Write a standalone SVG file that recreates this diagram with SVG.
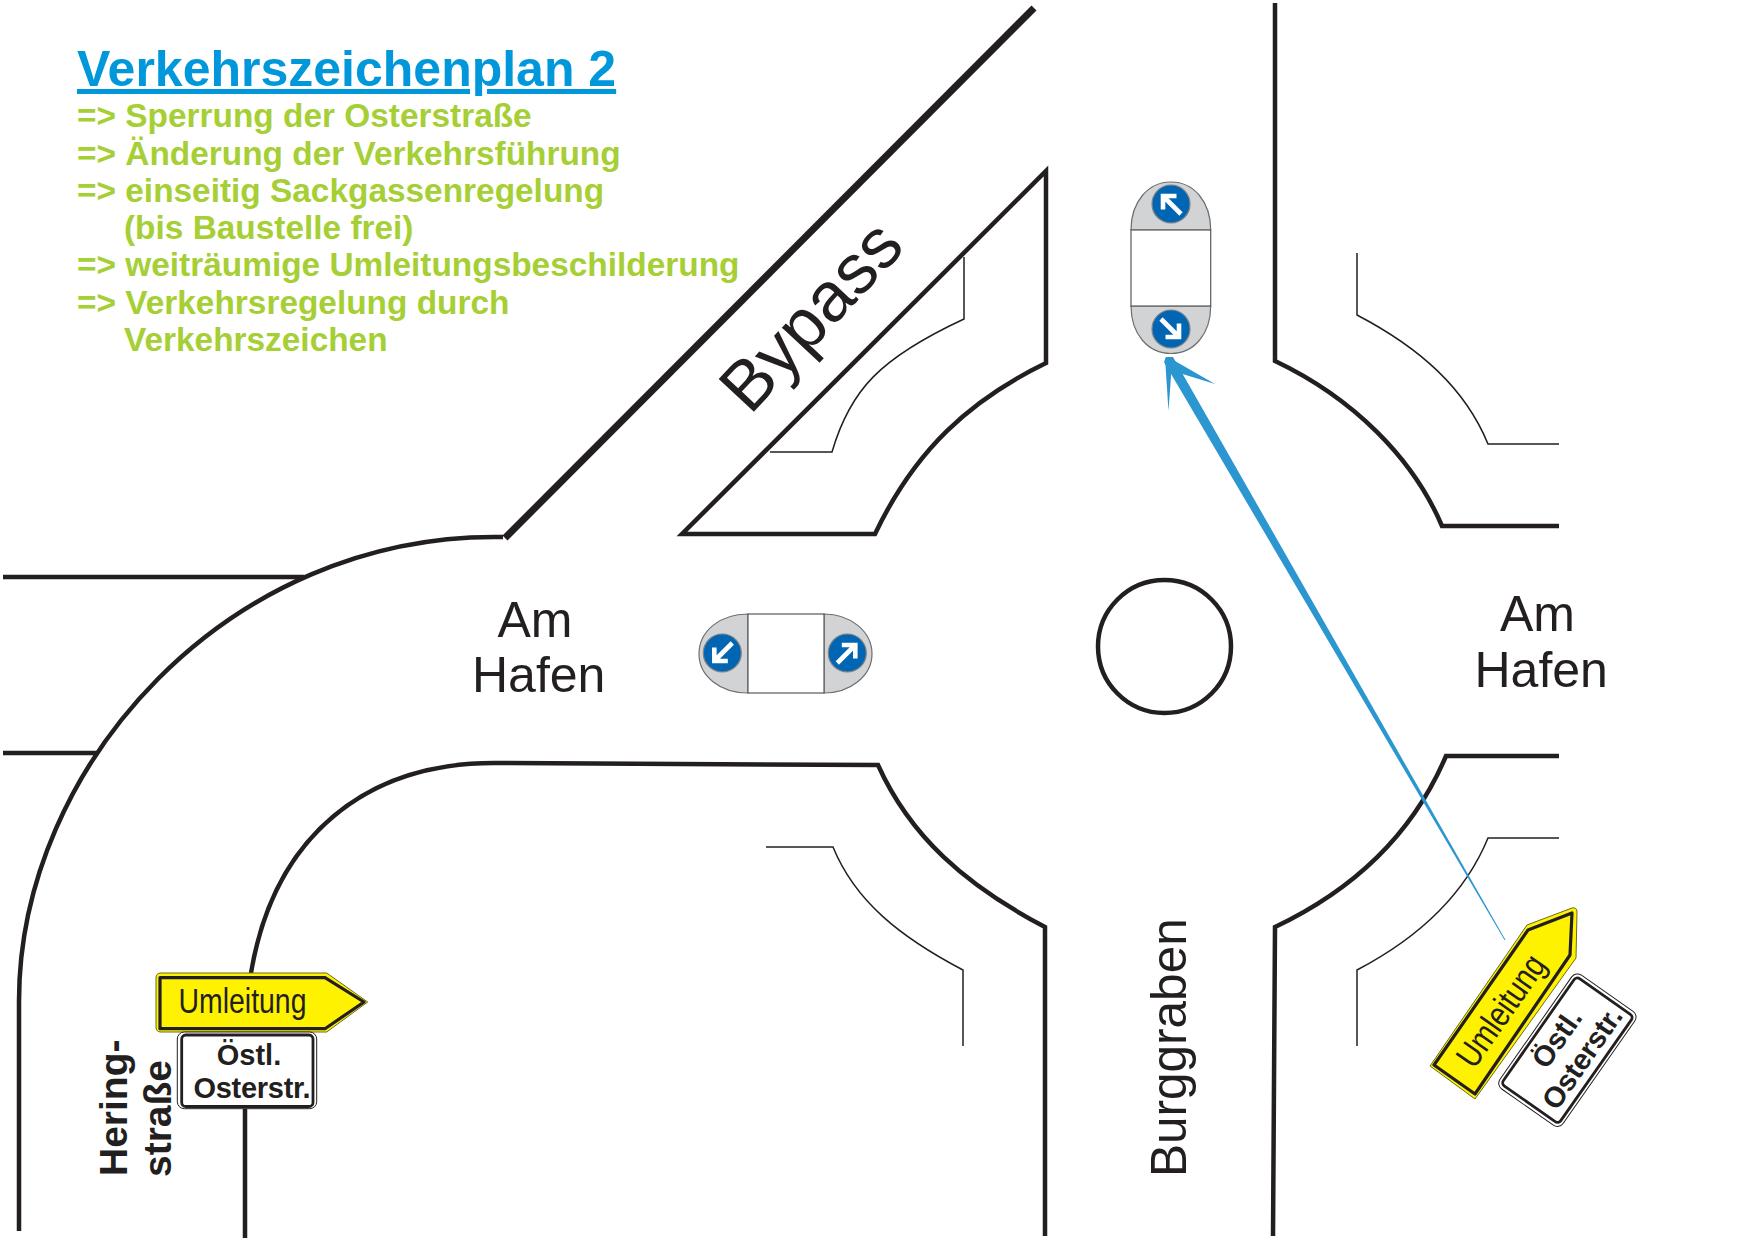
<svg xmlns="http://www.w3.org/2000/svg" width="1754" height="1240" viewBox="0 0 1754 1240">
<style>
text{font-family:"Liberation Sans",Arial,sans-serif;fill:#231f20}
.road{fill:none;stroke:#231f20;stroke-width:4.5}
.thin{fill:none;stroke:#231f20;stroke-width:1.5}
.title{font-size:50px;font-weight:700;fill:#0098da;text-decoration:underline;text-decoration-skip-ink:none}
.li{font-size:33.4px;font-weight:700;fill:#a5cf35}
.lab{font-size:50px}
.bold{font-size:39px;font-weight:700}
.cap{fill:#d1d3d4;stroke:#6d6e71;stroke-width:1.2}
.mid{fill:#fff;stroke:#58595b;stroke-width:1.2}
.disc{fill:#0066b3;stroke:#808285;stroke-width:1.2}
.yel{fill:#fff200;stroke:#6b6b20;stroke-width:1;stroke-linejoin:round}
.yin{fill:none;stroke:#231f20;stroke-width:3.2;stroke-linejoin:round}
.um{font-size:35px}
.wout{fill:#fff;stroke:#231f20;stroke-width:1}
.win{fill:#fff;stroke:#231f20;stroke-width:2.8}
.sg{font-size:29px;font-weight:700}
.blue{fill:#2b96cf}
</style>
<defs>
<g id="arrow"><path d="M-10,10 L8,-8 M-5.5,-8 H8 V5.5" fill="none" stroke="#fff" stroke-width="4.6"/></g>
</defs>
<rect width="1754" height="1240" fill="#fff"/>
<g id="roads">
<path class="road" style="stroke-width:7" d="M1034,8 L505,538"/>
<path class="road" d="M503,537 C228,532 19,766 19,1001 V1231"/>
<path class="road" d="M3,577 H304"/>
<path class="road" d="M3,753 H98"/>
<path class="road" d="M251,973 C274,835 367,763 494,763 L878,765 C910,836 965,885 1045,927 V1236"/>
<path class="road" d="M1275,3 V361 C1353,398 1413,458 1442,526 H1559"/>
<path class="road" d="M1559,756 H1446 C1412,836 1353,890 1275,927 L1273,1236"/>
<path class="road" d="M245,1108 V1238"/>
<path class="thin" d="M766,847 H833 C855,901 900,937 963,970 V1046"/>
<path class="thin" d="M1357,253 V315 C1420,348 1465,388 1488,444 H1559"/>
<path class="thin" d="M1559,838 H1488 C1465,894 1420,937 1357,970 V1046"/>
<path class="road" d="M1046,171 V363 C970,400 915,450 875,534 H682 Z"/>
<path class="thin" d="M964,257 V319 C880,358 850,390 832,452 H770"/>
<circle class="road" cx="1164.5" cy="646.5" r="66.5"/>
</g>
<g id="title">
<text class="title" x="77" y="86">Verkehrszeichenplan 2</text>
<text class="li" x="77" y="127.3">=&gt;</text><text class="li" x="125.3" y="127.3">Sperrung der Osterstraße</text>
<text class="li" x="77" y="164.6">=&gt;</text><text class="li" x="125.3" y="164.6">Änderung der Verkehrsführung</text>
<text class="li" x="77" y="202">=&gt;</text><text class="li" x="125.3" y="202">einseitig Sackgassenregelung</text>
<text class="li" x="124" y="239">(bis Baustelle frei)</text>
<text class="li" x="77" y="276.2">=&gt;</text><text class="li" x="125.3" y="276.2">weiträumige Umleitungsbeschilderung</text>
<text class="li" x="77" y="313.5">=&gt;</text><text class="li" x="125.3" y="313.5">Verkehrsregelung durch</text>
<text class="li" x="124" y="350.5">Verkehrszeichen</text>
</g>
<g id="labels">
<text class="lab" transform="translate(750,416) rotate(-47)" style="font-size:70px">Bypass</text>
<text class="lab" x="497.5" y="636.5">Am</text>
<text class="lab" x="472" y="692">Hafen</text>
<text class="lab" x="1500" y="631">Am</text>
<text class="lab" x="1474.5" y="687">Hafen</text>
<text class="lab" transform="translate(1186,1177) rotate(-90)" style="font-size:49.5px">Burggraben</text>
<text class="bold" transform="translate(127,1176) rotate(-90)">Hering-</text>
<text class="bold" transform="translate(171,1177) rotate(-90)">straße</text>
</g>
<g id="divider-horizontal">
<path class="cap" d="M748,614 C720,614 699,631 699,654 C699,676 720,693 748,693 Z"/>
<path class="cap" d="M824,614 C850,614 872,631 872,654 C872,676 850,693 824,693 Z"/>
<rect class="mid" x="748" y="614" width="76" height="79"/>
<circle class="disc" cx="722.3" cy="653" r="19"/><use href="#arrow" transform="translate(722.3,653) rotate(180)"/>
<circle class="disc" cx="847.3" cy="653" r="19"/><use href="#arrow" transform="translate(847.3,653)"/>
</g>
<g id="divider-vertical">
<path class="cap" d="M1131,230 C1131,202 1148,182 1171,182 C1194,182 1210.7,202 1210.7,230 Z"/>
<path class="cap" d="M1131,306 C1131,334 1148,353.5 1171,353.5 C1194,353.5 1210.7,334 1210.7,306 Z"/>
<rect class="mid" x="1131" y="230" width="79.7" height="76"/>
<circle class="disc" cx="1171" cy="204" r="19"/><use href="#arrow" transform="translate(1171,204) rotate(-90)"/>
<circle class="disc" cx="1171" cy="329" r="19"/><use href="#arrow" transform="translate(1171,329) rotate(90)"/>
</g>
<g id="connectors">
<path class="blue" d="M1164,362 L1166,357 L1173,357 L1505.5,940 L1504.5,940 Z"/>
<path class="blue" d="M1165,358 L1172,362 L1168.5,411 Z"/>
<path class="blue" d="M1168,357 L1215,384 L1176,372 Z"/>
</g>
<g id="sign-umleitung-left">
<path class="yel" d="M161,973 H326.7 L367.7,1002 L326.7,1032 H161 Q156,1032 156,1027 V978 Q156,973 161,973 Z"/>
<path class="yin" d="M160,977.7 H325 L364,1002 L325,1028.7 H160 Z"/>
<text class="um" x="178.5" y="1013" textLength="128" lengthAdjust="spacingAndGlyphs">Umleitung</text>
</g>
<g id="sign-osterstr-left">
<rect class="wout" x="177.3" y="1032" width="139.4" height="76.7" rx="7"/>
<rect class="win" x="181.7" y="1035" width="131.3" height="71.5" rx="4"/>
<text class="sg" x="249" y="1065" text-anchor="middle">Östl.</text>
<text class="sg" x="193.5" y="1097.5" textLength="117">Osterstr.</text>
</g>
<g id="sign-umleitung-right">
<path class="yel" d="M1527,925 L1572,908 Q1577,907 1577,912 L1576,958 L1475,1099 L1430,1066 Z"/>
<path class="yin" d="M1528,930 L1572,913 L1570,955 L1475,1094 L1434,1065 Z"/>
<text class="um" transform="translate(1474,1070) rotate(-55)" x="0" y="0" textLength="128" lengthAdjust="spacingAndGlyphs">Umleitung</text>
</g>
<g id="sign-osterstr-right" transform="translate(1496,1085) rotate(-55)">
<rect class="wout" x="0" y="0" width="139" height="77" rx="7"/>
<rect class="win" x="4" y="3.5" width="131" height="70" rx="4"/>
<text class="sg" x="73" y="33" text-anchor="middle">Östl.</text>
<text class="sg" x="13" y="65" textLength="117">Osterstr.</text>
</g>
</svg>
